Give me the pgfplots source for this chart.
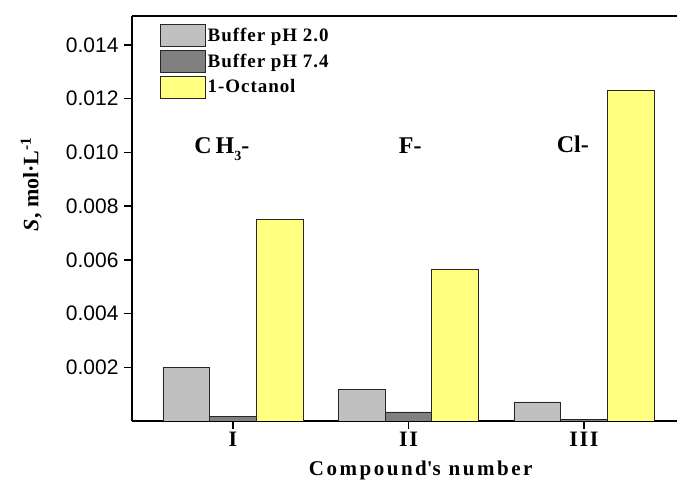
\documentclass[border=0pt]{standalone}
\usepackage{pgfplots}
\pgfplotsset{compat=1.18}
\usepackage{fontspec}
\setmainfont{Liberation Serif}
\newfontfamily\arialf{Liberation Sans}
\definecolor{lgray}{HTML}{C0C0C0}
\definecolor{dgray}{HTML}{808080}
\definecolor{lyel}{HTML}{FFFF80}
\pgfplotsset{mylegend/.style={legend image code/.code={\draw[##1,draw=black!85,line width=0.7bp] (0bp,-11bp) rectangle (45bp,11bp);}}}
\begin{document}
\begin{tikzpicture}
\path[use as bounding box] (-132bp,-64bp) rectangle (545bp,421bp);
\begin{axis}[
  scale only axis, width=545bp, height=405bp,
  ybar=0pt, bar width=0.266,
  xmin=0.425, xmax=3.53, ymin=0, ymax=0.01508,
  axis x line*=bottom, axis y line*=left,
  axis line style={-, line width=1.5bp},
  xtick={1,2,3}, xticklabels={I,II,III},
  ytick={0.002,0.004,0.006,0.008,0.010,0.012,0.014},
  scaled y ticks=false,
  yticklabel style={font=\arialf\fontsize{21bp}{21bp}\selectfont, xshift=-2bp, /pgf/number format/.cd, fixed, fixed zerofill, precision=3, assume math mode=true},
  xticklabel style={font=\bfseries\fontsize{22bp}{22bp}\selectfont\addfontfeature{LetterSpace=8}},
  tick align=outside, major tick length=8bp,
  tick style={line width=1.5bp, black},
  minor tick num=0,
  ylabel={\textbf{\textit{S}, mol·L\textsuperscript{-1}}},
  ylabel style={font=\fontsize{22bp}{22bp}\selectfont, at={(axis description cs:-0.185,0.585)}, anchor=center},
  xlabel={\textbf{Compound\textquotesingle s number}},
  xlabel style={font=\fontsize{21bp}{21bp}\selectfont\addfontfeature{LetterSpace=12}, at={(axis description cs:0.532,-0.123)}, anchor=center},
  legend style={at={(axis description cs:0.051,0.98)}, anchor=north west, draw=none, fill=none, inner sep=0pt,
     font=\bfseries\fontsize{19bp}{19bp}\selectfont\addfontfeature{LetterSpace=5},
     row sep=3bp, nodes={inner sep=2bp, anchor=west}},
  legend cell align=left,
]
\addplot[fill=lgray, draw=black!85, line width=0.7bp, mylegend] coordinates {(1,0.00200) (2,0.00116) (3,0.00071)};
\addplot[fill=dgray, draw=black!85, line width=0.7bp, mylegend] coordinates {(1,0.00017) (2,0.00034) (3,0.00006)};
\addplot[fill=lyel, draw=black!85, line width=0.7bp, mylegend] coordinates {(1,0.00749) (2,0.00563) (3,0.01232)};
\legend{Buffer pH 2.0, Buffer pH 7.4, 1-Octanol}
\draw[line width=1.5bp] (rel axis cs:0,1) -- (rel axis cs:1,1);
\node[anchor=base, font=\bfseries\fontsize{24bp}{24bp}\selectfont] at (axis cs:0.937,0.00995) {C\,H\raisebox{-0.28em}{\fontsize{14bp}{14bp}\selectfont 3}-};
\node[anchor=base, font=\bfseries\fontsize{24bp}{24bp}\selectfont] at (axis cs:2.01,0.00995) {F-};
\node[anchor=base, font=\bfseries\fontsize{24bp}{24bp}\selectfont] at (axis cs:2.936,0.01) {Cl-};
\end{axis}
\end{tikzpicture}
\end{document}
